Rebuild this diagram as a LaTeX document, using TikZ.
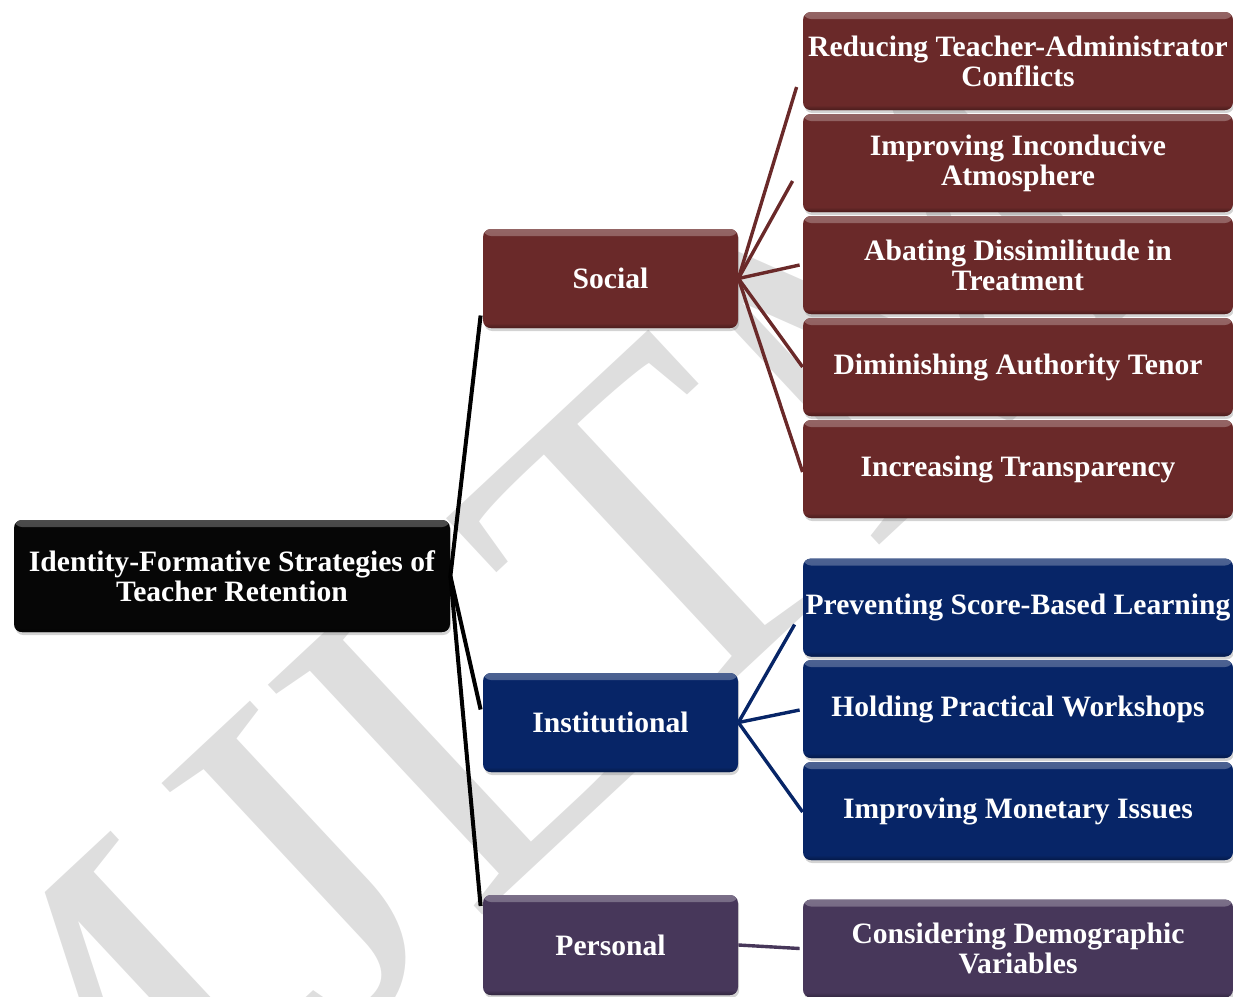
\documentclass[tikz,border=0pt]{standalone}
\usepackage{fontspec}
\setmainfont{Liberation Serif}
\usetikzlibrary{shadows,calc}
\definecolor{socred}{HTML}{6A2929}
\definecolor{instblue}{HTML}{072567}
\definecolor{perspurp}{HTML}{47375A}
\definecolor{rootblack}{HTML}{060606}
\definecolor{wmgray}{HTML}{DEDEDE}
\tikzset{
  gbox/.style={rounded corners=4pt, fill=#1, draw=none, text=white,
    font=\fontsize{14.8}{15}\selectfont\bfseries, align=center, inner sep=0pt,
    drop shadow={shadow xshift=0.6pt, shadow yshift=-1.5pt, opacity=0.35},
    path picture={
      \shade[top color=#1!72!white, bottom color=#1]
        (path picture bounding box.north west) rectangle ([yshift=-3.5pt]path picture bounding box.north east);
      \shade[top color=#1, bottom color=#1!70!black]
        ([yshift=2.5pt]path picture bounding box.south west) rectangle (path picture bounding box.south east);
    }},
  midbox/.style={gbox=#1, minimum width=127.5pt, minimum height=49.5pt},
  leafbox/.style={gbox=#1, minimum width=215pt, minimum height=49pt},
  rootline/.style={draw=black, line width=2pt},
  conn/.style={draw=#1, line width=1.7pt},
}
\begin{document}
\begin{tikzpicture}[x=0.5pt,y=-0.5pt]
\useasboundingbox (0,0) rectangle (1233,997);
\clip (0,0) rectangle (1233,997);
% watermark
\node[rotate=43, text=wmgray, font=\fontsize{240}{240}\selectfont, inner sep=0pt] (wm) at (497,690) {MJLTM};
% nodes
\node[gbox=rootblack, minimum width=218pt, minimum height=56pt] (root) at (232,576) {Identity-Formative Strategies of\\Teacher Retention};
\node[midbox=socred] (social) at (610.5,278.5) {Social};
\node[midbox=instblue] (inst) at (610.5,722.5) {Institutional};
\node[midbox=perspurp, minimum height=50pt] (pers) at (610.5,945) {Personal};
% connectors
\coordinate (cs) at ($(social.west)+(-2,37)$);
\coordinate (ci) at ($(inst.west)+(-2,-13)$);
\coordinate (cp) at ($(pers.west)+(-2,-39)$);
\draw[rootline] (root.east) -- (cs);
\draw[rootline] (root.east) -- (ci);
\draw[rootline] (root.east) -- (cp);
% leaves
\node[leafbox=socred] (s1) at (1018,61) {Reducing Teacher-Administrator\\Conflicts};
\node[leafbox=socred] (s2) at (1018,163) {Improving Inconducive\\Atmosphere};
\node[leafbox=socred] (s3) at (1018,265) {Abating Dissimilitude in\\Treatment};
\node[leafbox=socred] (s4) at (1018,367) {Diminishing Authority Tenor};
\node[leafbox=socred] (s5) at (1018,469) {Increasing Transparency};
\node[leafbox=instblue] (i1) at (1018,607.5) {Preventing Score-Based Learning};
\node[leafbox=instblue] (i2) at (1018,709) {Holding Practical Workshops};
\node[leafbox=instblue] (i3) at (1018,811) {Improving Monetary Issues};
\node[leafbox=perspurp] (p1) at (1018,948.5) {Considering Demographic\\Variables};
% leaf connectors
\draw[conn=socred] (social.east) -- ($(s1.west)+(-6,26)$);
\draw[conn=socred] (social.east) -- ($(s2.west)+(-10,18)$);
\draw[conn=socred] (social.east) -- ($(s3.west)+(-3,0)$);
\draw[conn=socred] (social.east) -- ($(s4.west)+(0,0)$);
\draw[conn=socred] (social.east) -- ($(s5.west)+(0,3)$);
\draw[conn=instblue] (inst.east) -- ($(i1.west)+(-8,17)$);
\draw[conn=instblue] (inst.east) -- ($(i2.west)+(-3,1)$);
\draw[conn=instblue] (inst.east) -- ($(i3.west)+(0,1)$);
\draw[conn=perspurp] (pers.east) -- ($(p1.west)+(-3,0)$);
\end{tikzpicture}
\end{document}
